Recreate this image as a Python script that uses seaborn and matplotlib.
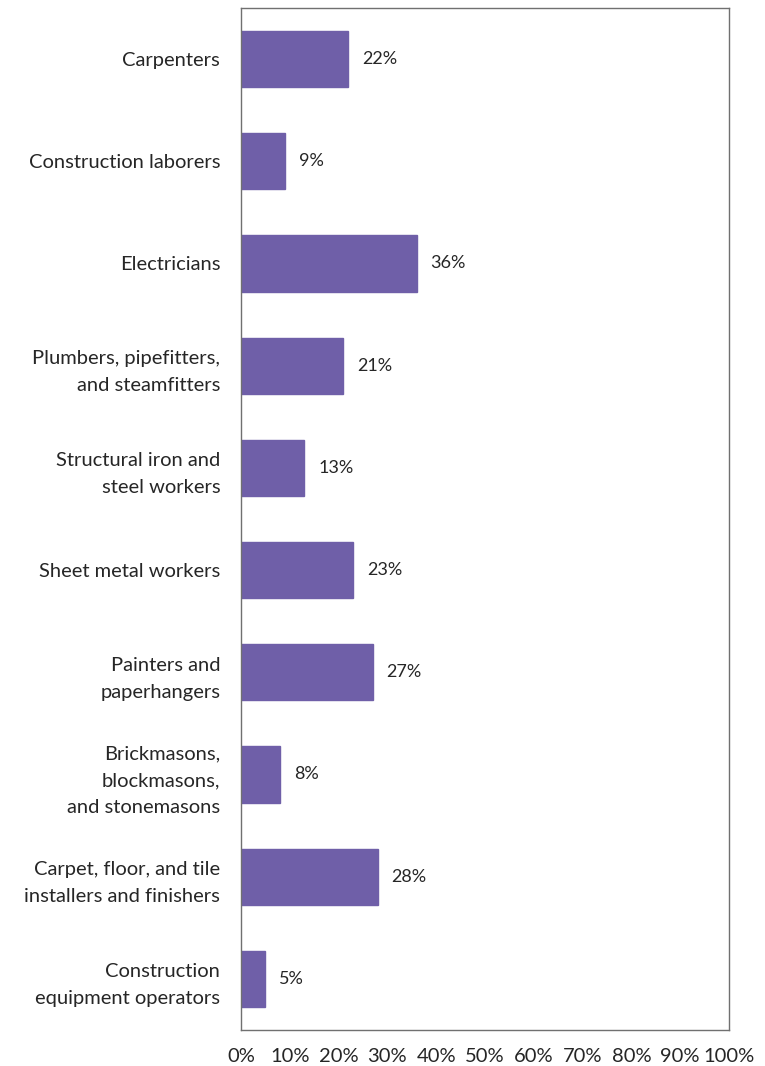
import matplotlib
matplotlib.use("Agg")
import matplotlib.pyplot as plt
import seaborn as sns
import pandas as pd

categories = [
    "Carpenters",
    "Construction laborers",
    "Electricians",
    "Plumbers, pipefitters,\nand steamfitters",
    "Structural iron and\nsteel workers",
    "Sheet metal workers",
    "Painters and\npaperhangers",
    "Brickmasons,\nblockmasons,\nand stonemasons",
    "Carpet, floor, and tile\ninstallers and finishers",
    "Construction\nequipment operators",
]
values = [22, 9, 36, 21, 13, 23, 27, 8, 28, 5]
xticks = [0, 10, 20, 30, 40, 50, 60, 70, 80, 90, 100]
xtick_labels = [f"{t}%" for t in xticks]

sns.set_theme(style="white")
plt.rcParams["font.family"] = ["Lato", "DejaVu Sans"]

df = pd.DataFrame({"cat": categories, "val": values})

fig = plt.figure(figsize=(7.65, 10.66), dpi=100)
ax = fig.add_axes([241/765, 36/1066, 488/765, 1022/1066])
sns.barplot(data=df, x="val", y="cat", orient="h", color="#6F5FA8",
            saturation=1, width=0.55, ax=ax, edgecolor="#6F5FA8")

ax.set_xlim(0, 100)
ax.set_ylim(len(categories) - 0.5, -0.5)
ax.set_xticks(xticks)
ax.set_xticklabels(xtick_labels, fontsize=14.5, color="#262626")
ax.tick_params(axis="x", length=0, pad=13)
ax.tick_params(axis="y", length=0, pad=15)
for lbl in ax.get_yticklabels():
    lbl.set_fontsize(14.5)
    lbl.set_color("#262626")
    lbl.set_multialignment("right")
    lbl.set_linespacing(1.7)
ax.set_xlabel("")
ax.set_ylabel("")

for i, v in enumerate(values):
    ax.annotate(f"{v}%", xy=(v, i), xytext=(10, 0), textcoords="offset points",
                va="center", ha="left", fontsize=13, color="#262626")

for s in ax.spines.values():
    s.set_visible(True)
    s.set_color("#707070")
    s.set_linewidth(1.0)

fig.savefig("out.png", dpi=100)
